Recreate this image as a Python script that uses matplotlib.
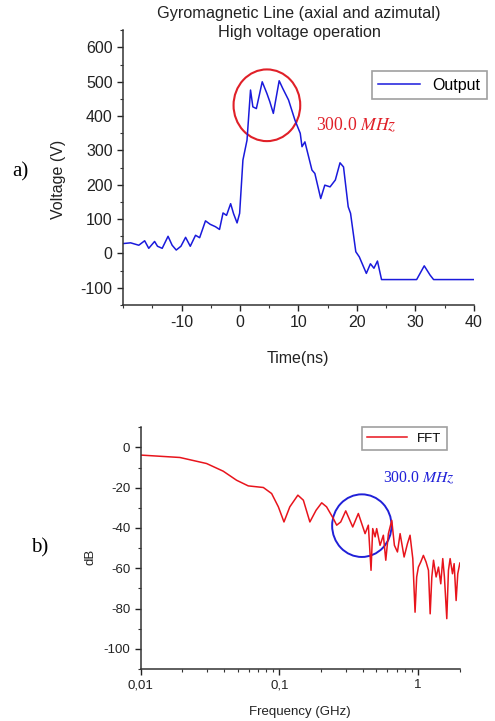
import matplotlib
matplotlib.use("Agg")
import matplotlib.pyplot as plt
from matplotlib.patches import Ellipse
from matplotlib.ticker import MultipleLocator, LogLocator, NullFormatter

plt.rcParams['font.family'] = ['Liberation Sans', 'DejaVu Sans']
plt.rcParams['mathtext.fontset'] = 'stix'
plt.rcParams['axes.unicode_minus'] = False

# a) output voltage pulse
time_ns = [-19.9, -18.7, -17.3, -16.3, -15.6, -14.6, -14.1, -13.3, -12.3, -11.6,
           -10.9, -10.1, -9.3, -8.5, -7.6, -6.9, -5.9, -5.1, -4.2, -3.5,
           -2.9, -2.3, -1.6, -1.1, -0.5, -0.06, 0.5, 1.2, 1.8, 2.2,
           2.8, 3.8, 4.6, 5.1, 5.7, 6.7, 7.3, 8.3, 9.4, 10.3,
           10.6, 11.1, 12.3, 12.8, 13.8, 14.5, 15.4, 16.3, 17.1, 17.7,
           18.5, 18.9, 19.8, 20.4, 21.6, 22.3, 22.9, 23.5, 24.2, 30.2,
           31.5, 32.5, 33.1, 40.0]
voltage = [29, 31, 24, 37, 15, 35, 21, 15, 50, 24,
           10, 21, 47, 21, 53, 46, 95, 85, 78, 70,
           118, 111, 145, 116, 89, 117, 272, 330, 476, 427,
           422, 500, 466, 442, 408, 503, 481, 447, 388, 350,
           311, 325, 243, 233, 160, 199, 194, 214, 264, 252,
           136, 117, 5, -10, -58, -30, -43, -22, -76, -76,
           -36, -63, -76, -76]

# b) FFT spectrum
freq_ghz = [0.01, 0.0192, 0.0299, 0.0394, 0.0492, 0.0597, 0.0767, 0.088, 0.0984, 0.108,
            0.119, 0.136, 0.149, 0.166, 0.184, 0.202, 0.219, 0.245, 0.259, 0.277,
            0.301, 0.338, 0.371, 0.415, 0.438, 0.458, 0.471, 0.490, 0.503, 0.532,
            0.562, 0.585, 0.611, 0.646, 0.675, 0.710, 0.742, 0.793, 0.838, 0.875,
            0.916, 0.951, 0.977, 1.005, 1.045, 1.092, 1.142, 1.188, 1.222, 1.256,
            1.292, 1.349, 1.403, 1.457, 1.506, 1.548, 1.610, 1.655, 1.702, 1.770,
            1.819, 1.880, 1.932, 2.0]
fft_db = [-3.8, -5.0, -8.0, -11.8, -16.3, -19.1, -19.9, -22.9, -29.5, -37,
          -29.5, -23.7, -26.2, -37, -31.2, -27.5, -29.5, -35.3, -38.6, -37,
          -31.5, -39.5, -32.8, -42.8, -38.6, -61, -40.3, -44.4, -40.3, -48.6,
          -43.6, -56, -42.8, -36.2, -48.6, -51.9, -42.8, -54.4, -47.8, -43.6,
          -55.2, -81.8, -64.3, -59.4, -56.9, -53.6, -56.9, -61, -82.6, -64.3,
          -56, -64.3, -59.4, -67.7, -55.2, -64.3, -85, -61, -55.2, -62.7,
          -57.7, -76, -62.7, -57.4]

fig = plt.figure(figsize=(4.95, 7.21), dpi=100)
spine_col = '#333333'


def style_axes(ax):
    for s in ['top', 'right']:
        ax.spines[s].set_visible(False)
    for s in ['left', 'bottom']:
        ax.spines[s].set_color(spine_col)
        ax.spines[s].set_linewidth(1.1)
    ax.tick_params(which='major', length=4, width=1, color=spine_col)
    ax.tick_params(which='minor', length=2.5, width=0.8, color=spine_col)


# top panel
ax1 = fig.add_axes([0.2485, 0.577, 0.709, 0.381])
ax1.plot(time_ns, voltage, color='#1a1adc', lw=1.1, label='Output')
ax1.set_xlim(-20, 40)
ax1.set_ylim(-150, 650)
ax1.xaxis.set_major_locator(MultipleLocator(10))
ax1.xaxis.set_minor_locator(MultipleLocator(5))
ax1.yaxis.set_major_locator(MultipleLocator(100))
ax1.yaxis.set_minor_locator(MultipleLocator(50))
ax1.set_xticks([-10, 0, 10, 20, 30, 40])
style_axes(ax1)
ax1.tick_params(labelsize=11.5, colors='#222222')
ax1.set_xlabel('Time(ns)', fontsize=11.5, color='#222222')
ax1.set_ylabel('Voltage (V)', fontsize=11.5, color='#222222')
ax1.xaxis.set_label_coords(0.499, -0.167)
ax1.yaxis.set_label_coords(-0.162, 0.458)
leg1 = ax1.legend(loc='upper left', bbox_to_anchor=(0.709, 0.851), borderaxespad=0,
                  fontsize=11.5, handlelength=2.6, fancybox=False, frameon=True)
leg1.get_frame().set_edgecolor('#888888')
leg1.get_frame().set_linewidth(1.2)
ax1.add_patch(Ellipse((0.41, 0.727), 0.19, 0.261, transform=ax1.transAxes,
                      fill=False, edgecolor='#e02028', lw=1.5, clip_on=False))
ax1.text(0.55, 0.655, r'300.0 $MHz$', transform=ax1.transAxes, color='#e02028',
         fontsize=12.8, family='Liberation Serif', va='center', ha='left')
fig.text(0.604, 1 - 23 / 721, 'Gyromagnetic Line (axial and azimutal)\nHigh voltage operation',
         ha='center', va='center', ma='center', fontsize=11.7, color='#222222', linespacing=1.35)
fig.text(20 / 495, 1 - 172 / 721, 'a)', family='Liberation Serif', fontsize=15,
         ha='center', va='center')

# bottom panel
ax2 = fig.add_axes([0.284, 0.0721, 0.645, 0.3353])
ax2.plot(freq_ghz, fft_db, color='#e8141c', lw=1.1, label='FFT')
ax2.set_xscale('log')
ax2.set_xlim(0.01, 2)
ax2.set_ylim(-110, 10)
ax2.set_xticks([0.01, 0.1, 1])
ax2.set_xticklabels(['0,01', '0,1', '1'])
ax2.xaxis.set_minor_locator(LogLocator(base=10, subs=range(2, 10)))
ax2.xaxis.set_minor_formatter(NullFormatter())
ax2.yaxis.set_major_locator(MultipleLocator(20))
ax2.yaxis.set_minor_locator(MultipleLocator(10))
style_axes(ax2)
ax2.tick_params(labelsize=9.5, colors='#222222')
ax2.set_xlabel('Frequency (GHz)', fontsize=9.5, color='#222222')
ax2.set_ylabel('dB', fontsize=9.5, color='#222222')
ax2.xaxis.set_label_coords(0.5, -0.155)
ax2.yaxis.set_label_coords(-0.138, 0.465)
leg2 = ax2.legend(loc='upper left', bbox_to_anchor=(0.693, 1.0), borderaxespad=0,
                  fontsize=9.5, handlelength=3.0, fancybox=False, frameon=True)
leg2.get_frame().set_edgecolor('#888888')
leg2.get_frame().set_linewidth(1.2)
ax2.add_patch(Ellipse((0.693, 0.593), 0.186, 0.259, transform=ax2.transAxes,
                      fill=False, edgecolor='#2020d8', lw=1.4, clip_on=False))
ax2.text(0.759, 0.79, r'300.0 $MHz$', transform=ax2.transAxes, color='#2020d8',
         fontsize=11.3, family='Liberation Serif', va='center', ha='left')
fig.text(40 / 495, 1 - 548 / 721, 'b)', family='Liberation Serif', fontsize=15,
         ha='center', va='center')

fig.savefig('out.png', dpi=100)
plt.close(fig)
